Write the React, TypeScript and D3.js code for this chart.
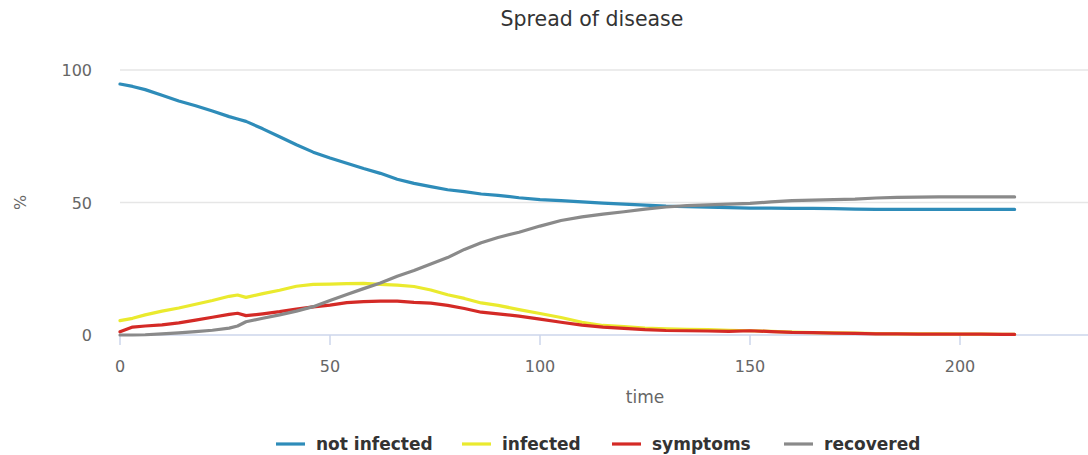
import React from "react";
import * as d3 from "d3";

const title = "Spread of disease";
const xTicks = [0, 50, 100, 150, 200];
const yTicks = [0, 50, 100];

const time = [0, 3, 6, 10, 14, 18, 22, 26, 28, 30, 34, 38, 42, 46, 50, 54, 58, 62, 66, 70, 74, 78, 82, 86, 90, 95, 100, 105, 110, 115, 120, 125, 130, 135, 140, 145, 150, 155, 160, 165, 170, 175, 180, 185, 190, 195, 200, 205, 210, 213];

const notInfected = [94.7, 93.8, 92.6, 90.5, 88.3, 86.5, 84.5, 82.4, 81.5, 80.6, 77.8, 74.8, 71.8, 69.0, 66.8, 64.8, 62.8, 61.0, 58.8, 57.2, 56.0, 54.8, 54.1, 53.2, 52.7, 51.8, 51.1, 50.7, 50.2, 49.8, 49.4, 49.0, 48.6, 48.4, 48.2, 48.1, 47.9, 47.9, 47.8, 47.8, 47.7, 47.5, 47.4, 47.4, 47.4, 47.4, 47.4, 47.4, 47.4, 47.4];

const infected = [5.4, 6.3, 7.6, 9.0, 10.2, 11.6, 13.0, 14.6, 15.1, 14.2, 15.6, 16.9, 18.4, 19.1, 19.2, 19.4, 19.5, 19.1, 18.8, 18.3, 17.0, 15.2, 13.8, 12.1, 11.2, 9.6, 8.1, 6.6, 4.8, 3.6, 3.2, 2.6, 2.3, 2.1, 2.0, 1.8, 1.6, 1.4, 1.1, 0.9, 0.8, 0.7, 0.5, 0.4, 0.4, 0.4, 0.3, 0.3, 0.2, 0.2];

const symptoms = [1.2, 3.0, 3.4, 3.8, 4.6, 5.6, 6.7, 7.8, 8.2, 7.3, 8.0, 8.8, 9.8, 10.6, 11.3, 12.2, 12.6, 12.8, 12.8, 12.3, 12.0, 11.2, 10.0, 8.6, 8.0, 7.1, 6.0, 4.8, 3.7, 3.0, 2.5, 2.0, 1.7, 1.6, 1.5, 1.4, 1.6, 1.3, 1.0, 0.9, 0.7, 0.6, 0.4, 0.4, 0.3, 0.3, 0.3, 0.3, 0.2, 0.2];

const recovered = [0, 0, 0.1, 0.4, 0.8, 1.3, 1.8, 2.6, 3.4, 5.0, 6.3, 7.6, 9.0, 10.7, 13.0, 15.3, 17.5, 19.6, 22.2, 24.3, 26.8, 29.2, 32.3, 34.8, 36.8, 38.8, 41.1, 43.2, 44.6, 45.6, 46.5, 47.5, 48.3, 48.8, 49.1, 49.4, 49.7, 50.2, 50.7, 50.9, 51.1, 51.3, 51.7, 51.9, 52.0, 52.1, 52.1, 52.1, 52.1, 52.1];

const seriesNames = ["not infected", "infected", "symptoms", "recovered"];
const seriesColors = ["#2e8cb9", "#eaea2e", "#d42a26", "#8a8a8a"];
const seriesValues = [notInfected, infected, symptoms, recovered];

const W = 1088;
const H = 455;
const FONT = "'DejaVu Sans', sans-serif";

export default function App() {
  const x = d3.scaleLinear().domain([0, 250]).range([120, 1170]);
  const y = d3.scaleLinear().domain([0, 100]).range([335, 70]);
  const line = d3
    .line<number>()
    .x((_, i) => x(time[i]))
    .y((d) => y(d))
    .curve(d3.curveLinear);

  const legendX = [276, 462, 612, 784];

  return (
    <svg
      width={W}
      height={H}
      style={{ position: "absolute", left: 0, top: 0, background: "#fff" }}
      fontFamily={FONT}
    >
      <rect x={0} y={0} width={W} height={H} fill="#fff" />
      <text x={592} y={26} textAnchor="middle" fontSize={20.5} fill="#333">
        {title}
      </text>
      {yTicks.filter((t) => t !== 0).map((t) => (
        <line key={"g" + t} x1={120} x2={1170} y1={y(t)} y2={y(t)} stroke="#e6e6e6" strokeWidth={1.5} />
      ))}
      {yTicks.map((t) => (
        <text key={"yl" + t} x={92} y={y(t) + 6} textAnchor="end" fontSize={16} fill="#666">
          {t}
        </text>
      ))}
      <text
        transform={`translate(26, ${y(50)}) rotate(-90)`}
        textAnchor="middle"
        fontSize={16}
        fill="#666"
      >
        %
      </text>
      <line x1={120} x2={1170} y1={y(0)} y2={y(0)} stroke="#ccd6eb" strokeWidth={1.5} />
      {xTicks.map((t) => (
        <g key={"xt" + t}>
          <line x1={x(t)} x2={x(t)} y1={y(0)} y2={y(0) + 10} stroke="#ccd6eb" strokeWidth={1.5} />
          <text x={x(t)} y={y(0) + 37} textAnchor="middle" fontSize={16} fill="#666">
            {t}
          </text>
        </g>
      ))}
      <text x={645} y={403} textAnchor="middle" fontSize={17} fill="#666">
        time
      </text>
      {seriesValues.map((vals, i) => (
        <path
          key={seriesNames[i]}
          d={line(vals) || ""}
          fill="none"
          stroke={seriesColors[i]}
          strokeWidth={3.2}
          strokeLinejoin="round"
          strokeLinecap="round"
        />
      ))}
      {seriesNames.map((n, i) => (
        <g key={"lg" + n}>
          <line x1={legendX[i]} x2={legendX[i] + 29} y1={444} y2={444} stroke={seriesColors[i]} strokeWidth={3.2} />
          <text x={legendX[i] + 40} y={450} fontSize={17} fontWeight="bold" fill="#333">
            {n}
          </text>
        </g>
      ))}
    </svg>
  );
}
